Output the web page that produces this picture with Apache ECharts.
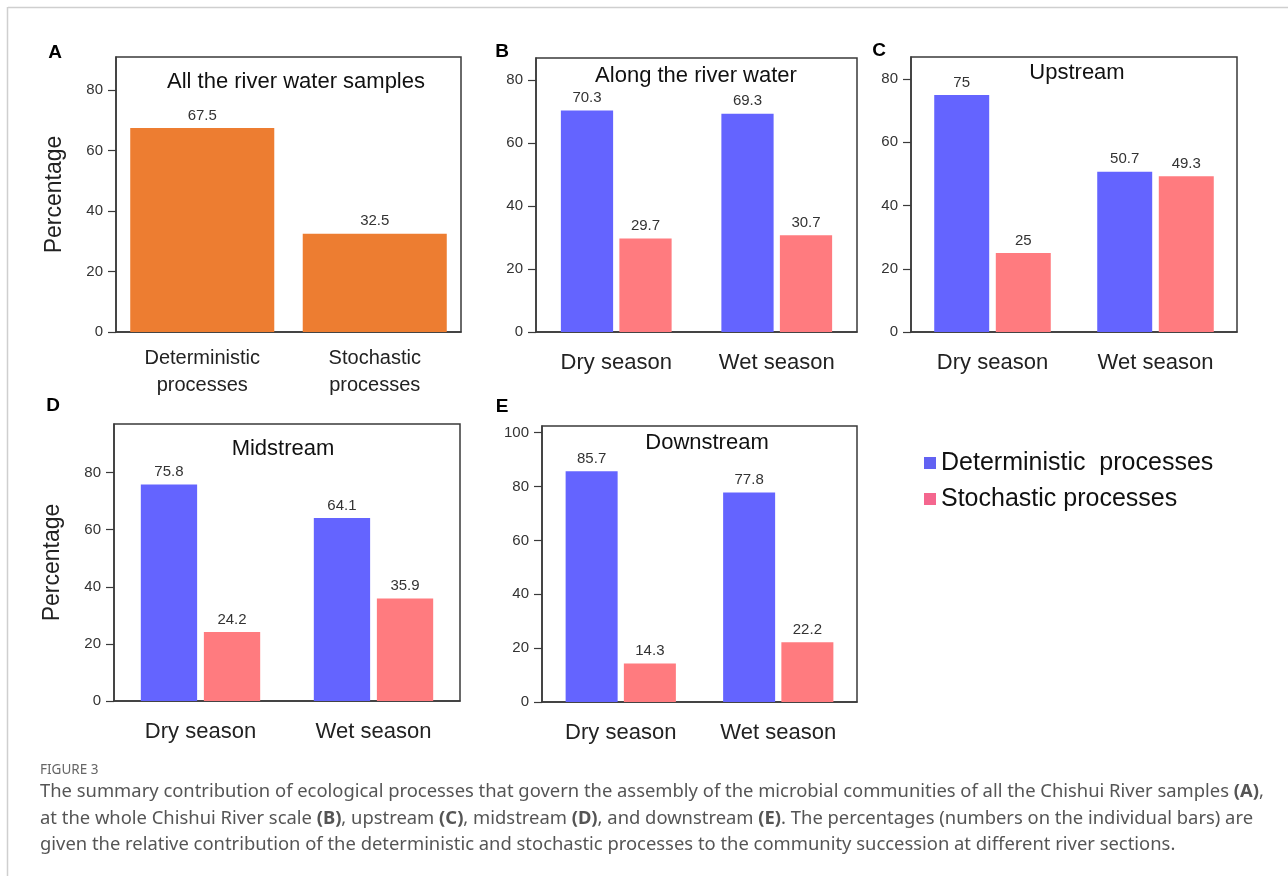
<!DOCTYPE html>
<html>
<head>
<meta charset="utf-8">
<script src="https://cdn.jsdelivr.net/npm/echarts@6/dist/echarts.min.js"></script>
<style>
	html, body { margin: 0; padding: 0; background: #fff; }
	#fig { width: 1288px; height: 876px; }
</style>
</head>
<body>
<div id="fig"></div>
<script>
	// ******** data
	var allCats = ['Deterministic\nprocesses', 'Stochastic\nprocesses'];
	var allValues = [67.5, 32.5];
	var seasons = ['Dry season', 'Wet season'];
	var alongDet = [70.3, 69.3];
	var alongSto = [29.7, 30.7];
	var upDet = [75, 50.7];
	var upSto = [25, 49.3];
	var midDet = [75.8, 64.1];
	var midSto = [24.2, 35.9];
	var downDet = [85.7, 77.8];
	var downSto = [14.3, 22.2];
	var ticks80 = [0, 20, 40, 60, 80];
	var ticks100 = [0, 20, 40, 60, 80, 100];
	var detName = 'Deterministic processes';
	var stoName = 'Stochastic processes';

	var arial = '"Liberation Sans", Arial, sans-serif';
	var blue = '#6464ff';
	var red = '#ff7b7f';
	var orange = '#ed7d31';

	// panel boxes: left, top, width, height, y max
	var panels = [
		{ left: 116, top: 57, width: 345, height: 275, max: 91, ticks: ticks80, title: 'All the river water samples', tx: 296, ty: 70, yName: 'Percentage' },
		{ left: 536, top: 58, width: 321, height: 274, max: 87, ticks: ticks80, title: 'Along the river water', tx: 696, ty: 64 },
		{ left: 911, top: 57, width: 326, height: 275, max: 87, ticks: ticks80, title: 'Upstream', tx: 1077, ty: 61 },
		{ left: 114, top: 424, width: 346, height: 277, max: 97, ticks: ticks80, title: 'Midstream', tx: 283, ty: 437, yName: 'Percentage' },
		{ left: 542, top: 426, width: 315, height: 276, max: 102.5, ticks: ticks100, title: 'Downstream', tx: 707, ty: 431 }
	];

	var grids = [], xAxes = [], yAxes = [], titles = [];
	for (var i = 0; i < panels.length; i++) {
		var p = panels[i];
		grids.push({
			left: p.left, top: p.top, width: p.width, height: p.height,
			show: true, borderColor: '#3a3a3a', borderWidth: 1.5, containLabel: false
		});
		xAxes.push({
			type: 'category',
			gridIndex: i,
			data: i === 0 ? allCats : seasons,
			axisLine: { lineStyle: { color: '#3a3a3a', width: 1.5 } },
			axisTick: { show: false },
			axisLabel: i === 0
				? { fontFamily: arial, fontSize: 20, lineHeight: 27, color: '#222', margin: 13, interval: 0 }
				: { fontFamily: arial, fontSize: 22, color: '#222', margin: 20, interval: 0 }
		});
		yAxes.push({
			type: 'value',
			gridIndex: i,
			min: 0,
			max: p.max,
			interval: 20,
			name: p.yName || '',
			nameLocation: 'middle',
			nameRotate: 90,
			nameGap: 50,
			nameTextStyle: { fontFamily: arial, fontSize: 23, color: '#222' },
			axisLine: { show: true, lineStyle: { color: '#3a3a3a', width: 1.5 } },
			axisTick: { show: true, length: 8, customValues: p.ticks, lineStyle: { color: '#3a3a3a', width: 1.2 } },
			axisLabel: { customValues: p.ticks, fontFamily: arial, fontSize: 15, color: '#333', margin: 13 },
			splitLine: { show: false }
		});
		titles.push({
			text: p.title,
			left: p.tx,
			top: p.ty,
			textAlign: 'center',
			padding: 0,
			textStyle: { fontFamily: arial, fontSize: 22, fontWeight: 'normal', color: '#111', lineHeight: 24 }
		});
	}

	var valLabel = { show: true, position: 'top', distance: 5, fontFamily: arial, fontSize: 15, color: '#333' };

	function pair(idx, det, sto, catGap) {
		return [
			{ name: detName, type: 'bar', xAxisIndex: idx, yAxisIndex: idx, data: det,
			  itemStyle: { color: blue }, barGap: '12%', barCategoryGap: catGap, label: valLabel },
			{ name: stoName, type: 'bar', xAxisIndex: idx, yAxisIndex: idx, data: sto,
			  itemStyle: { color: red }, barGap: '12%', barCategoryGap: catGap, label: valLabel }
		];
	}

	var series = [
		{ name: 'All samples', type: 'bar', xAxisIndex: 0, yAxisIndex: 0, data: allValues,
		  itemStyle: { color: orange }, barCategoryGap: '16.5%', label: valLabel }
	];
	series = series.concat(pair(1, alongDet, alongSto, '31%'));
	series = series.concat(pair(2, upDet, upSto, '28.5%'));
	series = series.concat(pair(3, midDet, midSto, '31%'));
	series = series.concat(pair(4, downDet, downSto, '30%'));

	// panel letters + caption
	var letters = [['A', 55, 53], ['B', 502, 52], ['C', 879, 51], ['D', 53, 406], ['E', 502, 407]];
	var graphics = [];
	letters.forEach(function (l) {
		graphics.push({
			type: 'text', x: l[1], y: l[2],
			style: { text: l[0], fontFamily: arial, fontSize: 19, fontWeight: 'bold', fill: '#000', align: 'center', verticalAlign: 'middle' }
		});
	});
	// page frame
	graphics.push({ type: 'line', shape: { x1: 8, y1: 7.5, x2: 1288, y2: 7.5 }, style: { stroke: '#cfcfcf', lineWidth: 1.5 } });
	graphics.push({ type: 'line', shape: { x1: 7.5, y1: 7, x2: 7.5, y2: 876 }, style: { stroke: '#cfcfcf', lineWidth: 1.5 } });

	var capFont = '"Noto Sans", "Open Sans", sans-serif';
	var capSize = 18.4;
	var capRich = { b: { fontFamily: capFont, fontSize: capSize, fontWeight: 'bold', fill: '#555' } };
	graphics.push({
		type: 'text', x: 40, y: 770,
		style: { text: 'FIGURE 3', fontFamily: capFont, fontSize: 13.5, fill: '#666', verticalAlign: 'middle' }
	});
	var capLines = [
		'The summary contribution of ecological processes that govern the assembly of the microbial communities of all the Chishui River samples {b|(A)},',
		'at the whole Chishui River scale {b|(B)}, upstream {b|(C)}, midstream {b|(D)}, and downstream {b|(E)}. The percentages (numbers on the individual bars) are',
		'given the relative contribution of the deterministic and stochastic processes to the community succession at different river sections.'
	];
	var capY = [792, 819, 845];
	for (var k = 0; k < capLines.length; k++) {
		graphics.push({
			type: 'text', x: 40, y: capY[k],
			style: { text: capLines[k], fontFamily: capFont, fontSize: capSize, fill: '#555', verticalAlign: 'middle', rich: capRich }
		});
	}

	var chart = echarts.init(document.getElementById('fig'));
	var option = {
		animation: false,
		title: titles,
		grid: grids,
		xAxis: xAxes,
		yAxis: yAxes,
		legend: {
			data: [
				{ name: detName, itemStyle: { color: '#6262f2' } },
				{ name: stoName, itemStyle: { color: '#f4668e' } }
			],
			orient: 'vertical',
			left: 919,
			top: 445,
			icon: 'rect',
			itemWidth: 12,
			itemHeight: 12,
			itemGap: 10,
			formatter: function (name) {
				return name === detName ? 'Deterministic  processes' : name;
			},
			textStyle: { fontFamily: arial, fontSize: 25, color: '#111', lineHeight: 26 }
		},
		series: series,
		graphic: graphics
	};
	chart.setOption(option);
</script>
</body>
</html>
